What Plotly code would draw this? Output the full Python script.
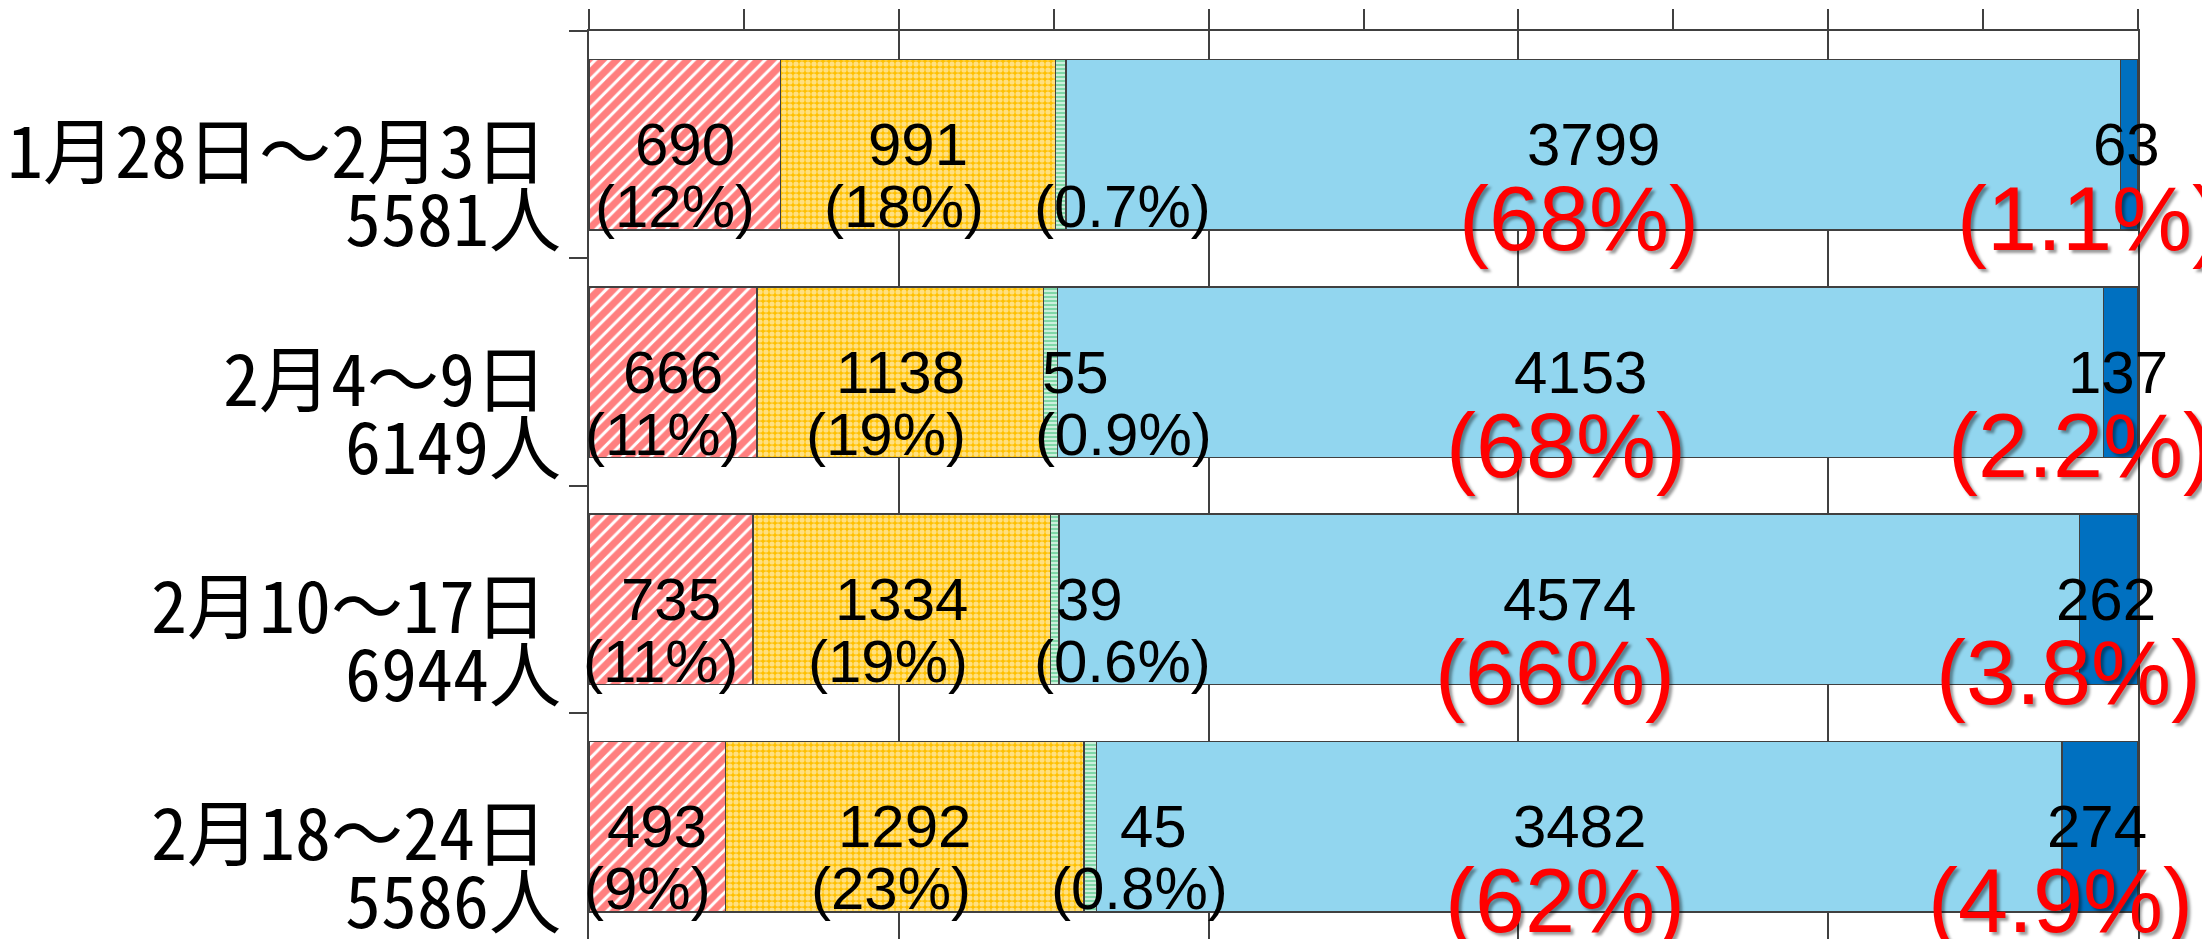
import plotly.graph_objects as go

# ---- data ----
periods = ["1月28日～2月3日", "2月4～9日", "2月10～17日", "2月18～24日"]
totals = [5581, 6149, 6944, 5586]
total_labels = ["5581人", "6149人", "6944人", "5586人"]

red_vals = [690, 666, 735, 493]
red_pct = ["12%", "11%", "11%", "9%"]
yellow_vals = [991, 1138, 1334, 1292]
yellow_pct = ["18%", "19%", "19%", "23%"]
green_vals = [38, 55, 39, 45]
green_pct = ["0.7%", "0.9%", "0.6%", "0.8%"]
green_num_shown = [False, True, True, True]
lblue_vals = [3799, 4153, 4574, 3482]
lblue_pct = ["68%", "68%", "66%", "62%"]
dblue_vals = [63, 137, 262, 274]
dblue_pct = ["1.1%", "2.2%", "3.8%", "4.9%"]

# ---- label nudges (pixels) ----
green_num_dx = [0, 25, 35, 63]
green_pct_dx = [62, 73, 68, 49]

series = [
    dict(vals=red_vals, pct=red_pct,
         pattern=dict(shape="/", fgcolor="#FF0000", bgcolor="#FFFFFF", size=10, solidity=0.7)),
    dict(vals=yellow_vals, pct=yellow_pct,
         pattern=dict(shape=".", fgcolor="#FFFFFF", bgcolor="#FFC000", size=6, solidity=0.6)),
    dict(vals=green_vals, pct=green_pct,
         pattern=dict(shape="-", fgcolor="#00B050", bgcolor="#FFFFFF", size=4, solidity=0.7)),
    dict(vals=lblue_vals, pct=lblue_pct, color="#92D6EF"),
    dict(vals=dblue_vals, pct=dblue_pct, color="#0070C0"),
]

idx = list(range(len(periods)))
fig = go.Figure()
for s in series:
    frac = [v / t for v, t in zip(s["vals"], totals)]
    marker = dict(line=dict(color="#404040", width=1.5))
    if "pattern" in s:
        marker["color"] = s["pattern"]["bgcolor"]
        marker["pattern"] = s["pattern"]
    else:
        marker["color"] = s["color"]
    fig.add_trace(go.Bar(x=frac, y=idx, orientation="h", marker=marker,
                         width=0.75, hoverinfo="skip", showlegend=False))

NUM_FONT = dict(family="Liberation Sans, Arial, sans-serif", size=60, color="#000000")
PCT_FONT = dict(family="Liberation Sans, Arial, sans-serif", size=60, color="#000000")
RED_FONT = dict(family="Liberation Sans, Arial, sans-serif",
                size=90, color="#FF0000", shadow="3px 3px 3px rgba(0,0,0,0.4)")
CAT_FONT = dict(family="Noto Sans Mono CJK JP, Noto Sans CJK JP, sans-serif", size=72,
                color="#000000")

ann = []
for i in idx:
    cum = 0.0
    for k, s in enumerate(series):
        f = s["vals"][i] / totals[i]
        cx = cum + f / 2
        cum += f
        num_dx = 0
        pct_dx = -10 if k == 0 else -14
        show_num = True
        font_p = PCT_FONT
        yshift_p = -62
        if k == 2:
            num_dx = green_num_dx[i]
            pct_dx = green_pct_dx[i]
            show_num = green_num_shown[i]
        if k == 3:
            font_p = RED_FONT
            pct_dx = -14
            yshift_p = -74
        if k == 4:
            font_p = RED_FONT
            pct_dx = -40
            num_dx = -3
            yshift_p = -74
        if show_num:
            ann.append(dict(x=cx, y=i, xref="x", yref="y", text=str(s["vals"][i]),
                            showarrow=False, font=NUM_FONT, xshift=num_dx))
        ann.append(dict(x=cx, y=i, xref="x", yref="y", text="(" + s["pct"][i] + ")",
                        showarrow=False, font=font_p, xshift=pct_dx, yshift=yshift_p))
    # category labels
    ann.append(dict(x=0, y=i, xref="paper", yref="y", text=periods[i], showarrow=False,
                    xanchor="right", xshift=-40, yshift=-2, font=CAT_FONT))
    ann.append(dict(x=0, y=i, xref="paper", yref="y", text=total_labels[i], showarrow=False,
                    xanchor="right", xshift=-26, yshift=-70, font=CAT_FONT))

fig.update_layout(
    barmode="stack",
    width=2210, height=939,
    margin=dict(l=581, r=80, t=23, b=8, pad=0),
    paper_bgcolor="#FFFFFF", plot_bgcolor="#FFFFFF",
    annotations=ann,
    bargap=0.25,
)
fig.update_xaxes(
    side="top", range=[0, 1], showticklabels=False, automargin=False,
    showline=True, linecolor="#404040", linewidth=1.5,
    ticks="outside", ticklen=20, tickcolor="#404040", tickwidth=1.5,
    dtick=0.2, tick0=0,
    showgrid=True, gridcolor="#404040", gridwidth=1.5,
    minor=dict(dtick=0.1, tick0=0, ticks="outside", ticklen=20, tickcolor="#404040",
               tickwidth=1.5, showgrid=False),
    zeroline=False, fixedrange=True,
)
fig.update_yaxes(
    type="category", range=[3.494, -0.5], autorange=False, showticklabels=False,
    automargin=False,
    showline=True, linecolor="#404040", linewidth=1.5, mirror=True,
    ticks="outside", ticklen=18, tickcolor="#404040", tickwidth=1.5,
    tickson="boundaries", showgrid=False, zeroline=False, fixedrange=True,
)

fig.write_html("out.html")
